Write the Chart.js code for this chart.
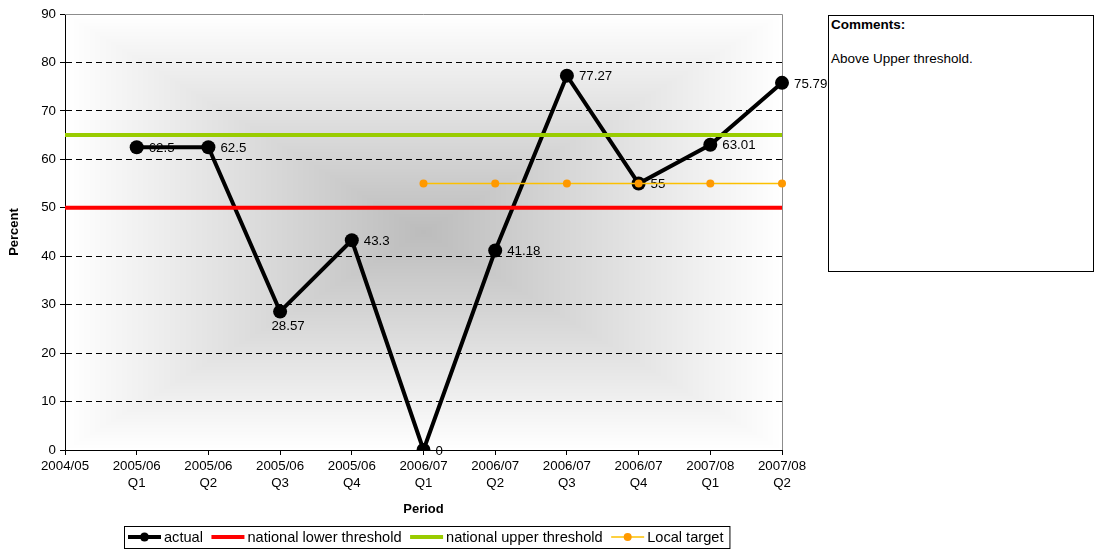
<!DOCTYPE html>
<html>
<head>
<meta charset="utf-8">
<title>Percent by period</title>
<script src="https://cdn.jsdelivr.net/npm/chart.js@4.4.1/dist/chart.umd.min.js"></script>
<style>
  html, body { margin: 0; padding: 0; background: #fff; }
  #wrap { position: relative; width: 1094px; height: 550px; overflow: hidden; }
  #c { position: absolute; left: 0; top: 0; }
  #comments {
    position: absolute; left: 828px; top: 15px; width: 264px; height: 255px;
    border: 1px solid #000; background: #fff; color: #000;
    font-family: "Liberation Sans", Arial, sans-serif; font-size: 13.5px;
  }
  #comments div { position: absolute; left: 2px; line-height: 16px; white-space: nowrap; }
  #comments .head { top: 1px; font-weight: bold; }
  #comments .body { top: 35px; }
</style>
</head>
<body>
<div id="wrap">
  <canvas id="c" width="1094" height="550"></canvas>
  <div id="comments">
    <div class="head">Comments:</div>
    <div class="body">Above Upper threshold.</div>
  </div>
</div>
<script>
// ---- data ----
const categories = [
  ['2004/05'],
  ['2005/06', 'Q1'], ['2005/06', 'Q2'], ['2005/06', 'Q3'], ['2005/06', 'Q4'],
  ['2006/07', 'Q1'], ['2006/07', 'Q2'], ['2006/07', 'Q3'], ['2006/07', 'Q4'],
  ['2007/08', 'Q1'], ['2007/08', 'Q2']
];
const actual         = [null, 62.5, 62.5, 28.57, 43.3, 0, 41.18, 77.27, 55, 63.01, 75.79];
const lowerThreshold = [50, 50, 50, 50, 50, 50, 50, 50, 50, 50, 50];
const upperThreshold = [65, 65, 65, 65, 65, 65, 65, 65, 65, 65, 65];
const localTarget    = [null, null, null, null, null, 55, 55, 55, 55, 55, 55];
const yTicks = [0, 10, 20, 30, 40, 50, 60, 70, 80, 90];

// ---- styling ----
const FONT = '"Liberation Sans", Arial, sans-serif';
Chart.defaults.color = '#000';
Chart.defaults.font.family = FONT;

// Which value label of the "actual" series sits under its point instead of beside it
const labelsBelow = new Set([3]);

// Plot background: grey in the middle fading to white at the edges (rectangular "from centre" shading)
function makeBackdrop(w, h) {
  const c = document.createElement('canvas');
  c.width = w; c.height = h;
  const g = c.getContext('2d');
  const img = g.createImageData(w, h);
  const cx = (w - 1) / 2, cy = (h - 1) / 2;
  const centre = 188;
  for (let y = 0; y < h; y++) {
    for (let x = 0; x < w; x++) {
      const t = Math.max(Math.abs(x - cx) / cx, Math.abs(y - cy) / cy);
      const v = Math.round(centre + (255 - centre) * Math.min(1, t));
      const i = (y * w + x) * 4;
      img.data[i] = img.data[i + 1] = img.data[i + 2] = v;
      img.data[i + 3] = 255;
    }
  }
  g.putImageData(img, 0, 0);
  return c;
}

const plotDecor = {
  id: 'plotDecor',
  beforeDraw(chart) {
    const { ctx, chartArea: a } = chart;
    const w = Math.round(a.right - a.left), h = Math.round(a.bottom - a.top);
    if (!this.img || this.img.width !== w || this.img.height !== h) this.img = makeBackdrop(w, h);
    ctx.drawImage(this.img, a.left, a.top);

    // value labels for the "actual" series (drawn under the lines)
    const meta = chart.getDatasetMeta(0);
    const values = chart.data.datasets[0].data;
    ctx.save();
    ctx.font = '13.3px ' + FONT;
    ctx.fillStyle = '#000';
    meta.data.forEach((pt, i) => {
      const v = values[i];
      if (v === null || v === undefined) return;
      if (labelsBelow.has(i)) {
        ctx.textAlign = 'center'; ctx.textBaseline = 'middle';
        ctx.fillText(String(v), pt.x + 8, pt.y + 15);
      } else {
        ctx.textAlign = 'left'; ctx.textBaseline = 'middle';
        ctx.fillText(String(v), pt.x + 12, pt.y + 1);
      }
    });
    ctx.restore();
  },
  beforeDatasetsDraw(chart) {
    // grey frame along the top and right of the plot
    const { ctx, chartArea: a } = chart;
    ctx.save();
    ctx.strokeStyle = '#8c8c8c';
    ctx.lineWidth = 1;
    ctx.beginPath();
    ctx.moveTo(a.left, Math.round(a.top) + 0.5);
    ctx.lineTo(Math.round(a.right) + 0.5, Math.round(a.top) + 0.5);
    ctx.lineTo(Math.round(a.right) + 0.5, a.bottom);
    ctx.stroke();
    ctx.restore();
  },
  afterDraw(chart) {
    // boxed legend below the axis title, with line + marker keys
    const ctx = chart.ctx;
    const sets = chart.data.datasets;
    ctx.save();
    ctx.font = '14.6px ' + FONT;
    const keyW = 33, textGap = 3, itemGap = 8.5, padL = 4, padR = 6;
    const widths = sets.map(ds => ctx.measureText(ds.label).width);
    const total = padL + widths.reduce((s, w) => s + keyW + textGap + w + itemGap, 0) - itemGap + padR;
    const boxL = 124, boxT = 526, boxH = 22;
    const midY = boxT + boxH / 2;
    ctx.fillStyle = '#fff';
    ctx.fillRect(boxL, boxT, total, boxH);
    ctx.strokeStyle = '#000';
    ctx.lineWidth = 1;
    ctx.strokeRect(boxL + 0.5, boxT + 0.5, total, boxH);
    let x = boxL + padL;
    sets.forEach((ds, i) => {
      ctx.strokeStyle = ds.borderColor;
      ctx.lineWidth = ds.borderWidth;
      ctx.beginPath();
      ctx.moveTo(x, midY);
      ctx.lineTo(x + keyW, midY);
      ctx.stroke();
      if (ds.pointRadius > 0) {
        ctx.fillStyle = ds.pointBackgroundColor;
        ctx.beginPath();
        ctx.arc(x + keyW / 2, midY, Math.min(ds.pointRadius, 4.5), 0, Math.PI * 2);
        ctx.fill();
      }
      ctx.fillStyle = '#000';
      ctx.textAlign = 'left';
      ctx.textBaseline = 'middle';
      ctx.fillText(ds.label, x + keyW + textGap, midY + 1);
      x += keyW + textGap + widths[i] + itemGap;
    });
    ctx.restore();
  }
};

new Chart(document.getElementById('c'), {
  type: 'line',
  data: {
    labels: categories,
    datasets: [
      {
        label: 'actual', data: actual, order: 4,
        borderColor: '#000', backgroundColor: '#000', borderWidth: 4,
        pointRadius: 7, pointBackgroundColor: '#000', pointBorderWidth: 0, pointHoverRadius: 7,
        tension: 0, fill: false
      },
      {
        label: 'national lower threshold', data: lowerThreshold, order: 3,
        borderColor: '#ff0000', backgroundColor: '#ff0000', borderWidth: 4,
        pointRadius: 0, pointHoverRadius: 0, tension: 0, fill: false
      },
      {
        label: 'national upper threshold', data: upperThreshold, order: 2,
        borderColor: '#99cc00', backgroundColor: '#99cc00', borderWidth: 4,
        pointRadius: 0, pointHoverRadius: 0, tension: 0, fill: false
      },
      {
        label: 'Local target', data: localTarget, order: 1,
        borderColor: '#fcc000', backgroundColor: '#ff9900', borderWidth: 1.5,
        pointRadius: 4, pointBackgroundColor: '#ff9900', pointBorderWidth: 0, pointHoverRadius: 4,
        tension: 0, fill: false
      }
    ]
  },
  options: {
    responsive: false,
    animation: false,
    events: [],
    layout: { padding: { left: 0, right: 312, top: 14, bottom: 0 } },
    plugins: { legend: { display: false }, tooltip: { enabled: false } },
    scales: {
      x: {
        type: 'category',
        offset: false,
        grid: { display: true, drawOnChartArea: false, drawTicks: true, tickLength: 5, tickColor: '#000', offset: false },
        border: { display: true, color: '#000', width: 1 },
        ticks: { autoSkip: false, maxRotation: 0, minRotation: 0, padding: 3, color: '#000',
                 font: { size: 13.3, lineHeight: 1.27 } },
        title: { display: true, text: 'Period', color: '#000',
                 font: { size: 13, weight: 'bold' }, padding: { top: 0, bottom: 33 } },
        afterFit(s) { s.height = 100; s.paddingLeft = 0; s.paddingRight = 0; }
      },
      y: {
        min: 0, max: 90,
        afterBuildTicks(s) { s.ticks = yTicks.map(v => ({ value: v })); },
        grid: { color: '#000', lineWidth: 1, tickLength: 5, tickColor: '#000', tickBorderDash: [] },
        border: { display: true, color: '#000', width: 1, dash: [6, 4] },
        ticks: { padding: 4, color: '#000', font: { size: 13.3 } },
        title: { display: true, text: 'Percent', color: '#000',
                 font: { size: 13, weight: 'bold' }, padding: { top: 7, bottom: 0 } },
        afterFit(s) { s.width = 65; s.paddingTop = 0; s.paddingBottom = 0; }
      }
    }
  },
  plugins: [plotDecor]
});
</script>
</body>
</html>
